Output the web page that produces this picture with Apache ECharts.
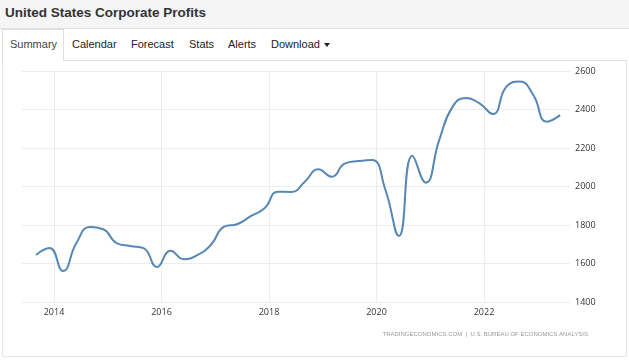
<!DOCTYPE html>
<html>
<head>
<meta charset="utf-8">
<script src="https://cdn.jsdelivr.net/npm/echarts@6/dist/echarts.min.js"></script>
<style>
  html, body { margin: 0; padding: 0; width: 629px; height: 361px; overflow: hidden; background: #fff; font-family: "Liberation Sans", Arial, sans-serif; }
  #head { position: absolute; left: 0; top: 0; width: 629px; height: 28px; background: #f5f5f5; border-bottom: 1px solid #e0e0e0; }
  #head h1 { margin: 0; position: absolute; left: 5px; top: 5px; font-size: 13.5px; font-weight: bold; color: #333; }
  #tabs { position: absolute; left: 0; top: 29px; width: 629px; height: 31px; }
  #tabs span { position: absolute; top: 9px; font-size: 11px; color: #222; }
  #active { position: absolute; left: 2px; top: 29px; width: 62px; height: 32px; background: #fff; border: 1px solid #ddd; border-bottom: none; box-sizing: border-box; }
  #panel { position: absolute; left: 2px; top: 60px; width: 625px; height: 297px; border: 1px solid #e6e6e6; border-top: 1px solid #ddd; box-sizing: border-box; }
  #chart { position: absolute; left: 0; top: 0; width: 629px; height: 361px; }
  .caret { display: inline-block; width: 0; height: 0; border-left: 3px solid transparent; border-right: 3px solid transparent; border-top: 4px solid #222; vertical-align: middle; margin-left: 4px; }
</style>
</head>
<body>
<div id="head"><h1>United States Corporate Profits</h1></div>
<div id="panel"></div>
<div id="active"></div>
<div id="tabs">
  <span style="left:10px;color:#444">Summary</span>
  <span style="left:72px">Calendar</span>
  <span style="left:131px">Forecast</span>
  <span style="left:189px">Stats</span>
  <span style="left:228px">Alerts</span>
  <span style="left:271px">Download<i class="caret"></i></span>
</div>
<div id="chart"></div>
<script>
const quarters = [
  '2013Q3','2013Q4','2014Q1','2014Q2','2014Q3','2014Q4','2015Q1','2015Q2','2015Q3','2015Q4',
  '2016Q1','2016Q2','2016Q3','2016Q4','2017Q1','2017Q2','2017Q3','2017Q4','2018Q1','2018Q2',
  '2018Q3','2018Q4','2019Q1','2019Q2','2019Q3','2019Q4','2020Q1','2020Q2','2020Q3','2020Q4',
  '2021Q1','2021Q2','2021Q3','2021Q4','2022Q1','2022Q2','2022Q3','2022Q4','2023Q1','2023Q2'
];
const profits = [
  1644, 1680, 1561, 1706, 1790, 1778, 1706, 1691, 1680, 1582,
  1666, 1622, 1644, 1696, 1791, 1805, 1847, 1887, 1973, 1972,
  2025, 2089, 2051, 2120, 2132, 2138, 1982, 1743, 2160, 2020,
  2241, 2415, 2460, 2432, 2377, 2519, 2545, 2475, 2337, 2371
];
const yearTicks = [2014, 2016, 2018, 2020, 2022];
const yTicks = [1400, 1600, 1800, 2000, 2200, 2400, 2600];
const sourceText = 'TRADINGECONOMICS.COM  |  U.S. BUREAU OF ECONOMICS ANALYSIS';

function quarterToYear(q) {
  const y = parseInt(q.slice(0, 4), 10);
  const n = parseInt(q.slice(5), 10);
  return y + (n * 3 - 1) / 12;
}
const seriesData = quarters.map((q, i) => [quarterToYear(q), profits[i]]);

const chart = echarts.init(document.getElementById('chart'), null, { renderer: 'canvas' });
chart.setOption({
  backgroundColor: 'transparent',
  animation: false,
  grid: { left: 22, right: 59, top: 71, bottom: 59, containLabel: false },
  xAxis: {
    type: 'value',
    min: 2013.405,
    max: 2023.6,
    axisLine: { show: false },
    axisTick: { show: false, customValues: yearTicks },
    axisLabel: {
      customValues: yearTicks,
      formatter: v => String(Math.round(v)),
      color: '#333', fontSize: 9, margin: 6,
      fontFamily: '"Open Sans", "Liberation Sans", sans-serif'
    },
    splitLine: { show: true, lineStyle: { color: '#ececec', width: 1 } }
  },
  yAxis: {
    type: 'value',
    position: 'right',
    min: yTicks[0],
    max: yTicks[yTicks.length - 1],
    interval: 200,
    axisLine: { show: false },
    axisTick: { show: false },
    axisLabel: {
      formatter: v => String(v),
      color: '#333', fontSize: 9, margin: 5,
      fontFamily: '"Open Sans", "Liberation Sans", sans-serif'
    },
    splitLine: { show: true, lineStyle: { color: '#ececec', width: 1 } }
  },
  graphic: [{
    type: 'text',
    right: 41,
    top: 331,
    style: { text: sourceText, fill: '#999', font: '6px "Liberation Sans", sans-serif' }
  }],
  series: [{
    type: 'line',
    data: seriesData,
    smooth: 0.5,
    showSymbol: false,
    lineStyle: { color: '#5687b5', width: 2 },
    itemStyle: { color: '#5687b5' }
  }]
});
</script>
</body>
</html>
